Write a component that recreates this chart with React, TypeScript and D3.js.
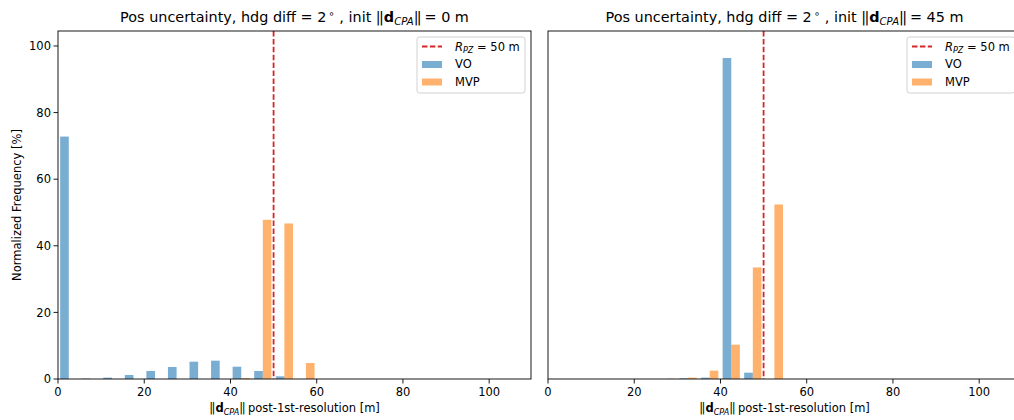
import React from 'react';
import * as d3 from 'd3';

// Histogram bins: 5 m wide, starting at 0 m
const binStart = 0;
const binWidth = 5;

// Normalized frequency [%] per bin, init |d_CPA| = 0 m
const leftVO = [72.8, 0.1, 0.4, 1.2, 2.4, 3.6, 5.2, 5.5, 3.7, 2.4, 0.8];
const leftMVP = [0, 0, 0, 0, 0, 0, 0, 0, 0.3, 47.8, 46.7, 4.8];

// Normalized frequency [%] per bin, init |d_CPA| = 45 m
const rightVO = [0, 0, 0, 0, 0, 0, 0.2, 0.4, 96.4, 1.9];
const rightMVP = [0, 0, 0, 0, 0, 0.1, 0.4, 2.5, 10.3, 33.5, 52.4];

const initDists = [0, 45];
const rpz = 50;

const xTicks = [0, 20, 40, 60, 80, 100];
const yTicks = [0, 20, 40, 60, 80, 100];

const xDomain: [number, number] = [0, 109.7];
const yDomain: [number, number] = [0, 104.5];

const W = 1014;
const H = 420;
const axTop = 31;
const axW = 473;
const axH = 348;

const BLUE = '#1f77b4';
const ORANGE = '#ff7f0e';
const RED = '#d62728';
const FONT = 'DejaVu Sans, sans-serif';
const TICK_FS = 11.5;

const x = d3.scaleLinear().domain(xDomain).range([0, axW]);
const y = d3.scaleLinear().domain(yDomain).range([axH, 0]);

type PanelProps = {
  left: number;
  vo: number[];
  mvp: number[];
  init: number;
  showY: boolean;
  id: string;
};

function Bars({ values, offset, color }: { values: number[]; offset: number; color: string }) {
  return (
    <g>
      {values.map((v, i) => {
        if (v <= 0) return null;
        const x0 = binStart + i * binWidth + offset * binWidth;
        const x1 = x0 + 0.4 * binWidth;
        return (
          <rect
            key={i}
            x={x(x0)}
            y={y(v)}
            width={x(x1) - x(x0)}
            height={y(0) - y(v)}
            fill={color}
            fillOpacity={0.6}
          />
        );
      })}
    </g>
  );
}

// Norm bars drawn as two close vertical strokes
function DCPA({ fs }: { fs: number }) {
  return (
    <>
      <tspan letterSpacing={-fs * 0.12}>||</tspan>
      <tspan dx={fs * 0.12} fontWeight="bold">d</tspan>
      <tspan fontStyle="italic" fontSize={fs * 0.7} dy={fs * 0.22}>CPA</tspan>
      <tspan dy={-fs * 0.22} letterSpacing={-fs * 0.12}>||</tspan>
    </>
  );
}

function Panel({ left, vo, mvp, init, showY, id }: PanelProps) {
  const titleFs = 14.4;
  return (
    <g transform={`translate(${left},${axTop})`}>
      <defs>
        <clipPath id={id}>
          <rect x={0} y={0} width={axW} height={axH} />
        </clipPath>
      </defs>
      <g clipPath={`url(#${id})`}>
        <Bars values={vo} offset={0.1} color={BLUE} />
        <Bars values={mvp} offset={0.5} color={ORANGE} />
        <line
          x1={x(rpz)}
          x2={x(rpz)}
          y1={0}
          y2={axH}
          stroke={RED}
          strokeWidth={1.8}
          strokeDasharray="5.5,2.4"
        />
      </g>
      {/* spines */}
      <rect x={0} y={0} width={axW} height={axH} fill="none" stroke="#000" strokeWidth={0.9} />
      {/* x axis */}
      {xTicks.map((t) => (
        <g key={t} transform={`translate(${x(t)},${axH})`}>
          <line y1={0} y2={4.5} stroke="#000" strokeWidth={0.9} />
          <text y={17} textAnchor="middle" fontFamily={FONT} fontSize={TICK_FS} fill="#000">
            {t}
          </text>
        </g>
      ))}
      {showY &&
        yTicks.map((t) => (
          <g key={t} transform={`translate(0,${y(t)})`}>
            <line x1={0} x2={-4.5} stroke="#000" strokeWidth={0.9} />
            <text x={-7} dy="0.36em" textAnchor="end" fontFamily={FONT} fontSize={TICK_FS} fill="#000">
              {t}
            </text>
          </g>
        ))}
      {showY && (
        <text
          transform={`translate(${-37},${axH / 2}) rotate(-90)`}
          textAnchor="middle"
          fontFamily={FONT}
          fontSize={TICK_FS}
          fill="#000"
        >
          Normalized Frequency [%]
        </text>
      )}
      <text x={axW / 2} y={axH + 33} textAnchor="middle" fontFamily={FONT} fontSize={TICK_FS} fill="#000">
        <DCPA fs={TICK_FS} />
        <tspan> post-1st-resolution [m]</tspan>
      </text>
      {/* title */}
      <text x={axW / 2} y={-9} textAnchor="middle" fontFamily={FONT} fontSize={titleFs} fill="#000">
        <tspan>Pos uncertainty, hdg diff = 2</tspan>
        <tspan fontSize={titleFs * 0.7} dx={titleFs * 0.15} dy={-titleFs * 0.35}>∘</tspan>
        <tspan dy={titleFs * 0.35}> , init </tspan>
        <DCPA fs={titleFs} />
        <tspan> = {init} m</tspan>
      </text>
      {/* legend */}
      <g transform={`translate(${axW - 114},6)`}>
        <rect x={0} y={0} width={108} height={56} rx={2.5} fill="#fff" fillOpacity={0.8} stroke="#cccccc" strokeWidth={0.9} />
        <line x1={5} x2={25} y1={9.5} y2={9.5} stroke={RED} strokeWidth={1.8} strokeDasharray="5.5,2.4" />
        <text x={38} y={13.5} fontFamily={FONT} fontSize={TICK_FS} fill="#000">
          <tspan fontStyle="italic">R</tspan>
          <tspan fontStyle="italic" fontSize={TICK_FS * 0.7} dy={2.5}>PZ</tspan>
          <tspan dy={-2.5}> = 50 m</tspan>
        </text>
        <rect x={5} y={24} width={20} height={7} fill={BLUE} fillOpacity={0.6} />
        <text x={38} y={31} fontFamily={FONT} fontSize={TICK_FS} fill="#000">VO</text>
        <rect x={5} y={41.5} width={20} height={7} fill={ORANGE} fillOpacity={0.6} />
        <text x={38} y={48.5} fontFamily={FONT} fontSize={TICK_FS} fill="#000">MVP</text>
      </g>
    </g>
  );
}

export default function App() {
  return (
    <svg
      width={W}
      height={H}
      viewBox={`0 0 ${W} ${H}`}
      style={{ position: 'fixed', left: 0, top: 0, background: '#fff', display: 'block' }}
    >
      <rect x={0} y={0} width={W} height={H} fill="#fff" />
      <Panel left={58} vo={leftVO} mvp={leftMVP} init={initDists[0]} showY={true} id="clipL" />
      <Panel left={548} vo={rightVO} mvp={rightMVP} init={initDists[1]} showY={false} id="clipR" />
    </svg>
  );
}
